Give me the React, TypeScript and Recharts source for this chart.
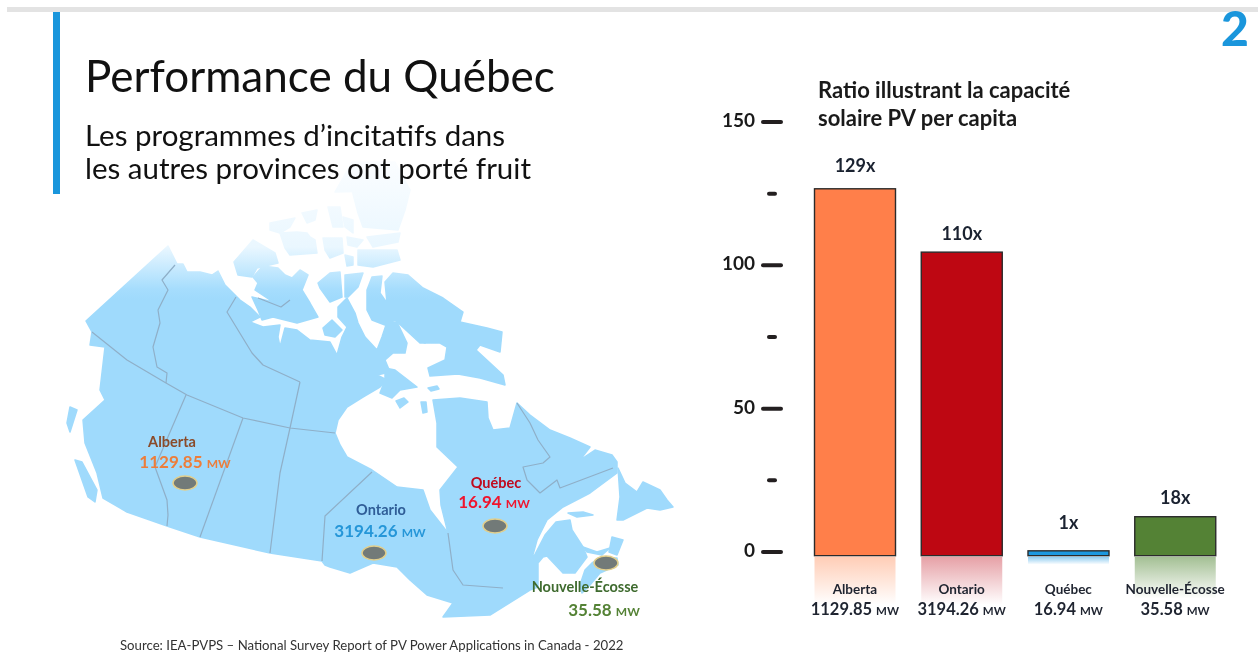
import React from 'react'
import { BarChart, Bar, XAxis, YAxis, LabelList } from 'recharts'

// values
const provinces = ['Alberta', 'Ontario', 'Québec', 'Nouvelle-Écosse']
const capacities = ['1129.85', '3194.26', '16.94', '35.58']
const ratioLabels = ['129x', '110x', '1x', '18x']
const barTops = [126.7, 104.6, 0.4, 12.3]
const barBase = -1.3
const axisTicks = [0, 25, 50, 75, 100, 125, 150]
const labelledTicks = [0, 50, 100, 150]

const barColors = ['#FF7F4A', '#BE0712', '#1B98E0', '#548235']
const reflectColors = ['#FFCDB6', '#E6A0A6', '#8CCBF0', '#A3BF93']
const labelGaps = [17, 12, 22, 13]
const font = 'Lato, "Open Sans", sans-serif'

const chartData = provinces.map((name, i) => ({
  name,
  range: [barBase, barTops[i]],
  ratio: ratioLabels[i],
}))

// map outlines, traced by hand (this is the illustration, not chart data)
const mainland =
  '168,246 177,264 183,264 187,272 200,272 212,275 218,271 225,285 230,290 240,300 250,307 260,317 250,322 263,327 280,325 278,337 280,347 285,328 297,330 310,340 330,342 337,355 342,337 347,327 338,317 338,307 347,298 355,313 358,323 365,337 377,350 382,337 387,322 397,322 407,343 405,353 393,353 385,360 390,372 377,375 387,380 380,387 363,397 347,407 338,420 335,433 340,445 347,457 372,470 397,487 423,490 430,510 448,533 441,505 440,490 458,467 437,447 437,423 433,400 460,398 487,402 488,418 493,430 510,428 517,403 530,415 550,430 570,438 590,447 580,460 595,450 612,455 617,462 617,473 590,493 563,507 547,520 537,540 531,562 545,535 556,522 570,520 572,530 583,547 587,557 575,573 563,573 547,556 543,557 538,563 538,587 530,590 490,615 443,617 453,603 427,595 410,580 397,567 373,563 350,573 330,567 325,565 322,561 270,553 200,537 167,526 127,512 103,498 97,473 85,443 83,420 105,400 100,390 105,347 90,345 92,332 86,321'
const islands = [
  '253,240 275,253 278,263 257,268 252,277 238,275 234,262',
  '263,266 278,268 285,275 292,278 300,270 308,275 302,290 310,303 318,317 297,323 273,317 262,320 258,310 252,297 273,302 255,290 258,283 253,277',
  '318,283 330,273 340,272 342,297 330,302 320,288',
  '345,275 363,273 358,287 348,297 345,297',
  '323,328 332,320 342,330 335,337 325,335',
  '367,290 372,277 382,276 380,293 387,303 385,282 393,273 408,275 423,288 443,298 463,312 460,322 487,328 502,332 500,352 480,345 476,350 503,375 505,385 480,378 458,374 430,376 428,368 445,360 447,347 440,343 420,343 395,320 385,325 372,320 367,310',
  '385,368 395,370 417,387 400,390 392,398 380,393 385,380',
  '618,468 625,483 637,492 643,482 660,490 667,500 673,507 660,510 647,508 623,520 617,520 620,497',
  '568,513 583,512 593,515 577,517',
  '612,537 623,540 617,555 609,552',
  '600,558 617,558 618,565 600,573 590,585 582,593 580,585 585,570 592,563',
  '583,547 597,552 610,548 602,555 587,552',
  '75,460 82,462 97,490 95,502 88,497',
  '70,407 77,410 70,432 67,423',
  '270,223 295,218 290,227 280,233 270,230',
  '280,233 297,232 307,233 310,237 315,240 317,253 290,255 285,248',
  '302,213 317,210 315,220 307,223',
  '323,238 342,238 343,253 330,258 325,250',
  '345,255 353,257 353,265 347,266',
  '358,250 397,250 400,260 373,267 358,265',
  '347,237 363,240 357,247 348,245',
  '367,237 400,233 398,242 373,247',
  '352,190 410,190 405,210 398,230 363,227 358,213',
  '328,207 340,207 343,227 333,227',
  '343,217 353,220 353,233 345,227',
  '335,192 352,162 395,162 410,190',
  '418,331 425,330 431,337 425,343 419,340',
  '396,401 404,398 408,402 400,408',
  '421,402 426,402 427,412 423,413',
  '428,388 437,386 439,389 431,391',
]
const borders = [
  '175,265 162,280 168,290 158,310 160,323 153,347 157,367 167,373 166,383',
  '92,332 127,360 166,383 187,395 243,418 290,428 335,433',
  '186,395 155,467 167,500 168,515 167,526',
  '243,418 200,537',
  '300,382 290,428 280,473 270,553',
  '236,297 227,312 252,353 263,365 300,382',
  '290,300 281,307 258,298',
  '372,472 325,516 322,561',
  '448,533 453,570 463,585 503,588',
  '517,403 530,423 538,440 550,457 543,463 523,467 527,480 540,493 557,480 560,488 613,468',
]
const markers = [
  { name: 'Alberta', cx: 185, cy: 483, nameX: 172, nameY: 447, valueX: 185, valueY: 468, nameColor: '#8A4B2A', valueColor: '#ED7D3A' },
  { name: 'Ontario', cx: 374, cy: 553, nameX: 381, nameY: 515, valueX: 380, valueY: 537, nameColor: '#2F5D97', valueColor: '#2596D8' },
  { name: 'Québec', cx: 495, cy: 526, nameX: 496, nameY: 488, valueX: 494, valueY: 508, nameColor: '#C00A1E', valueColor: '#F0142D' },
  { name: 'Nouvelle-Écosse', cx: 606, cy: 563, nameX: 585, nameY: 592, valueX: 604, valueY: 616, nameColor: '#3F6B2F', valueColor: '#548235' },
]

function CanadaMap() {
  return (
    <svg width={1258} height={662} style={{ position: 'absolute', left: 0, top: 0 }}>
      <defs>
        <linearGradient id="landFade" gradientUnits="userSpaceOnUse" x1="0" y1="160" x2="0" y2="300">
          <stop offset="0%" stopColor="#FBFDFF" />
          <stop offset="62%" stopColor="#EAF7FF" />
          <stop offset="92%" stopColor="#A6DDFD" />
          <stop offset="100%" stopColor="#9FDAFC" />
        </linearGradient>
        {reflectColors.map((c, i) => (
          <linearGradient key={i} id={`reflect-${i}`} x1="0" y1="0" x2="0" y2="1">
            <stop offset="0%" stopColor={c} />
            <stop offset="100%" stopColor="#FFFFFF" />
          </linearGradient>
        ))}
      </defs>
      <polygon points={mainland} fill="url(#landFade)" stroke="url(#landFade)" strokeWidth={1.5} strokeLinejoin="round" />
      {islands.map((pts, i) => (
        <polygon key={i} points={pts} fill="url(#landFade)" stroke="url(#landFade)" strokeWidth={1.5} strokeLinejoin="round" />
      ))}
      {borders.map((pts, i) => (
        <polyline key={i} points={pts} fill="none" stroke="#8FAFC8" strokeWidth={1.2} strokeLinejoin="round" />
      ))}
      {markers.map((m, i) => (
        <g key={m.name} fontFamily={font} fontWeight={700} textAnchor="middle">
          <ellipse cx={m.cx} cy={m.cy} rx={12} ry={7} fill="#727A78" stroke="#E2CF8C" strokeWidth={1.5} />
          <text x={m.nameX} y={m.nameY} fontSize={14.5} fill={m.nameColor}>{m.name}</text>
          <text x={m.valueX} y={m.valueY} fontSize={17} fill={m.valueColor}>
            {capacities[i]} <tspan fontSize={12}>MW</tspan>
          </text>
        </g>
      ))}
    </svg>
  )
}

function RatioTick({ x, y, payload }: any) {
  const major = labelledTicks.includes(payload.value)
  const cx = x - 29.5
  const w = major ? 22 : 10
  return (
    <g>
      <rect x={cx - w / 2} y={y - 2} width={w} height={4} rx={2} fill="#231F20" />
      {major && (
        <text x={cx - 17} y={y + 5} textAnchor="end" fontFamily={font} fontWeight={700} fontSize={19} fill="#1A1A1A">
          {payload.value}
        </text>
      )}
    </g>
  )
}

function ProvinceTick({ x, y, payload, index }: any) {
  return (
    <g fontFamily={font} fontWeight={700} textAnchor="middle" fill="#1F2430">
      <text x={x} y={y + 30} fontSize={13.5}>{payload.value}</text>
      <text x={x} y={y + 51} fontSize={16.5}>
        {capacities[index]} <tspan fontSize={11.5}>MW</tspan>
      </text>
    </g>
  )
}

function ReflectedBar({ x, y, width, height, index }: any) {
  const bottom = y + height
  const reflect = Math.min(height, 45) + 3
  return (
    <g>
      <rect x={x} y={y} width={width} height={height} fill={barColors[index]} stroke="#2B2B2B" strokeWidth={1.4} />
      <rect x={x} y={bottom + 1} width={width} height={reflect} fill={`url(#reflect-${index})`} />
    </g>
  )
}

function RatioLabel({ x, y, width, value, index }: any) {
  return (
    <text
      x={x + width / 2}
      y={y - labelGaps[index]}
      textAnchor="middle"
      fontFamily={font}
      fontWeight={700}
      fontSize={18}
      fill="#1A2230"
    >
      {value}
    </text>
  )
}

export default function App() {
  return (
    <div style={{ position: 'absolute', left: 0, top: 0, width: 1258, height: 662, overflow: 'hidden', background: '#fff', fontFamily: font, filter: 'blur(0.4px)' }}>
      <div style={{ position: 'absolute', left: 7, top: 7, width: 1251, height: 5, background: '#E3E3E3' }} />
      <div style={{ position: 'absolute', left: 53, top: 12, width: 7, height: 182, background: '#1A96DC' }} />
      <CanadaMap />
      <div style={{ position: 'absolute', left: 85, top: 49, fontSize: 44, lineHeight: '52px', color: '#111', whiteSpace: 'nowrap' }}>
        Performance du Québec
      </div>
      <div style={{ position: 'absolute', left: 85, top: 118, fontSize: 29.5, lineHeight: '33px', color: '#111', whiteSpace: 'nowrap' }}>
        Les programmes d’incitatifs dans
        <br />
        les autres provinces ont porté fruit
      </div>
      <div style={{ position: 'absolute', left: 1221, top: 0, fontSize: 48, lineHeight: '56px', fontWeight: 900, color: '#1A96DC' }}>2</div>
      <div style={{ position: 'absolute', left: 818, top: 76, fontSize: 22, lineHeight: '28px', fontWeight: 700, color: '#1A1A1A', whiteSpace: 'nowrap' }}>
        Ratio illustrant la capacité
        <br />
        solaire PV per capita
      </div>
      <div style={{ position: 'absolute', left: 120, top: 637, fontSize: 13.2, lineHeight: '16px', color: '#333', whiteSpace: 'nowrap' }}>
        Source: IEA-PVPS – National Survey Report of PV Power Applications in Canada - 2022
      </div>
      <div style={{ position: 'absolute', left: 0, top: 0 }}>
        <BarChart
          width={1258}
          height={662}
          data={chartData}
          margin={{ top: 122, right: 29.5, bottom: 46.3, left: 700 }}
          barSize={81}
        >
          <XAxis dataKey="name" height={60} axisLine={false} tickLine={false} interval={0} tick={<ProvinceTick />} />
          <YAxis
            width={101.5}
            domain={[barBase, 150]}
            ticks={axisTicks}
            axisLine={false}
            tickLine={false}
            tickSize={0}
            tickMargin={0}
            tick={<RatioTick />}
          />
          <Bar dataKey="range" isAnimationActive={false} shape={<ReflectedBar />}>
            <LabelList dataKey="ratio" content={<RatioLabel />} />
          </Bar>
        </BarChart>
      </div>
    </div>
  )
}
